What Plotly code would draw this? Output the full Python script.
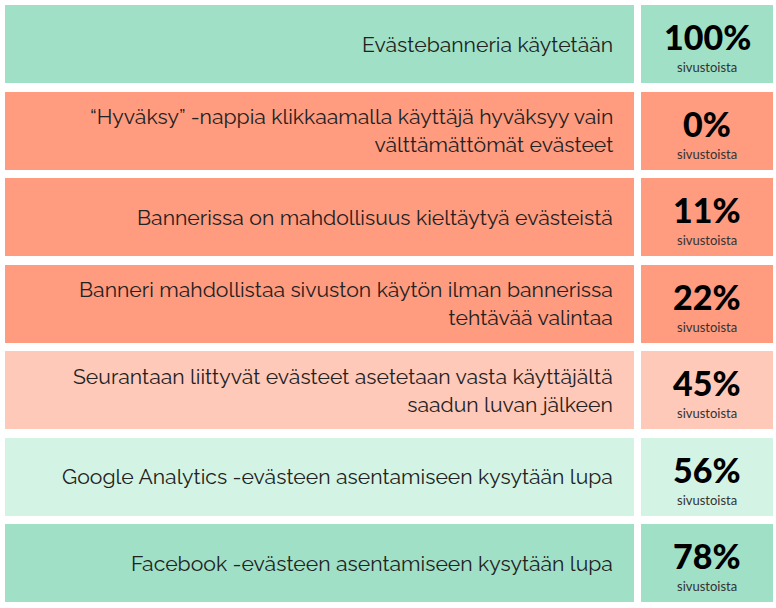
import plotly.graph_objects as go

labels = [
    "Evästebanneria käytetään",
    "“Hyväksy” -nappia klikkaamalla käyttäjä hyväksyy vain<br>välttämättömät evästeet",
    "Bannerissa on mahdollisuus kieltäytyä evästeistä",
    "Banneri mahdollistaa sivuston käytön ilman bannerissa<br>tehtävää valintaa",
    "Seurantaan liittyvät evästeet asetetaan vasta käyttäjältä<br>saadun luvan jälkeen",
    "Google Analytics -evästeen asentamiseen kysytään lupa",
    "Facebook -evästeen asentamiseen kysytään lupa",
]
values = [100, 0, 11, 22, 45, 56, 78]
unit = "sivustoista"
colors = ["#a0e0c6", "#ff9b7f", "#ff9b7f", "#ff9b7f", "#ffc9b9", "#d3f4e4", "#a0e0c6"]

rows = list(range(len(labels)))

fig = go.Figure()
fig.add_trace(go.Bar(
    y=rows, x=[629] * len(rows), base=[5] * len(rows), orientation="h",
    marker=dict(color=colors, line=dict(width=0)), width=0.902,
    hoverinfo="skip", showlegend=False,
))
fig.add_trace(go.Bar(
    y=rows, x=[132] * len(rows), base=[641] * len(rows), orientation="h",
    marker=dict(color=colors, line=dict(width=0)), width=0.902,
    hoverinfo="skip", showlegend=False,
))

for i, (lab, v) in enumerate(zip(labels, values)):
    fig.add_annotation(x=615, y=i, text=lab, xanchor="right", yanchor="middle",
                       showarrow=False, align="right",
                       font=dict(family="Raleway, Lato, sans-serif", size=21.2, color="#222222"))
    fig.add_annotation(x=707, y=i, yshift=-14, text=f"{v}%", xanchor="center",
                       yanchor="bottom", showarrow=False, borderpad=0,
                       font=dict(family="Lato", size=34, weight=900, color="#000000"))
    fig.add_annotation(x=707, y=i, yshift=-14, text=unit, xanchor="center",
                       yanchor="top", showarrow=False, borderpad=0,
                       font=dict(family="Lato", size=13, color="#333333"))

fig.update_layout(
    width=776, height=608, margin=dict(l=0, r=0, t=0, b=0),
    paper_bgcolor="white", plot_bgcolor="white", bargap=0, barmode="overlay",
    xaxis=dict(range=[0, 776], visible=False, fixedrange=True),
    yaxis=dict(range=[6.52, -0.509], visible=False, fixedrange=True),
)
fig.write_html("out.html", config={"displayModeBar": False},
               post_script="document.body.style.margin='0';")
